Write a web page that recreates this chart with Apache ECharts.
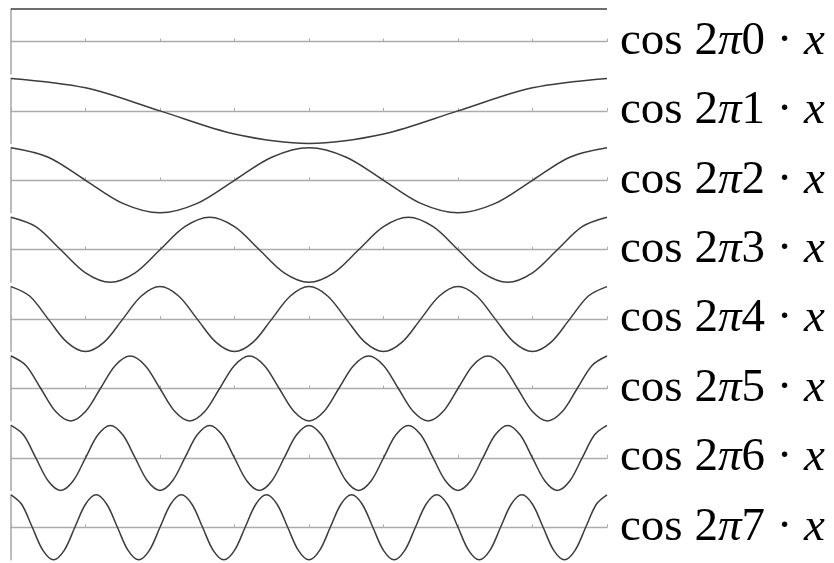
<!DOCTYPE html>
<html>
<head>
<meta charset="utf-8">
<style>
html,body{margin:0;padding:0;background:#fff;}
#chart{width:834px;height:563px;}
</style>
<script src="https://cdn.jsdelivr.net/npm/echarts@6/dist/echarts.min.js"></script>
</head>
<body>
<div id="chart"></div>
<script>
// frequencies (label numbers)
const freqs = [0, 1, 2, 3, 4, 5, 6, 7];
// curve values sampled at evenly spaced x positions across [0, 1]
const wave0 = [1, 1];
const wave1 = [1,0.71,0,-0.71,-1,-0.71,0,0.71,1];
const wave2 = [1,0.71,0,-0.71,-1,-0.71,0,0.71,1,0.71,0,-0.71,-1,-0.71,0,0.71,1];
const wave3 = [1,0.71,0,-0.71,-1,-0.71,0,0.71,1,0.71,0,-0.71,-1,-0.71,0,0.71,1,0.71,0,-0.71,-1,-0.71,0,0.71,1];
const wave4 = [1,0.71,0,-0.71,-1,-0.71,0,0.71,1,0.71,0,-0.71,-1,-0.71,0,0.71,1,0.71,0,-0.71,-1,-0.71,0,0.71,1,0.71,0,-0.71,-1,-0.71,0,0.71,1];
const wave5 = [1,0.71,0,-0.71,-1,-0.71,0,0.71,1,0.71,0,-0.71,-1,-0.71,0,0.71,1,0.71,0,-0.71,-1,-0.71,0,0.71,1,0.71,0,-0.71,-1,-0.71,0,0.71,1,0.71,0,-0.71,-1,-0.71,0,0.71,1];
const wave6 = [1,0.71,0,-0.71,-1,-0.71,0,0.71,1,0.71,0,-0.71,-1,-0.71,0,0.71,1,0.71,0,-0.71,-1,-0.71,0,0.71,1,0.71,0,-0.71,-1,-0.71,0,0.71,1,0.71,0,-0.71,-1,-0.71,0,0.71,1,0.71,0,-0.71,-1,-0.71,0,0.71,1];
const wave7 = [1,0.71,0,-0.71,-1,-0.71,0,0.71,1,0.71,0,-0.71,-1,-0.71,0,0.71,1,0.71,0,-0.71,-1,-0.71,0,0.71,1,0.71,0,-0.71,-1,-0.71,0,0.71,1,0.71,0,-0.71,-1,-0.71,0,0.71,1,0.71,0,-0.71,-1,-0.71,0,0.71,1,0.71,0,-0.71,-1,-0.71,0,0.71,1];
const waves = [wave0, wave1, wave2, wave3, wave4, wave5, wave6, wave7];

const chart = echarts.init(document.getElementById('chart'), null, {renderer: 'canvas'});

const axisGray = '#ababab';
const curveColor = '#3c3c3c';
const grids = [], xAxes = [], yAxes = [], series = [];
const top0 = 9, step = 69.4, h = 65;

freqs.forEach((k, i) => {
  grids.push({left: 11, width: 596, top: top0 + step * i, height: h});
  xAxes.push({
    type: 'value', gridIndex: i, min: 0, max: 1, interval: 0.125,
    axisLine: {show: true, onZero: true, lineStyle: {color: axisGray, width: 1.3}},
    axisTick: {show: true, inside: true, length: 3, lineStyle: {color: axisGray, width: 1}},
    axisLabel: {show: false},
    splitLine: {show: false},
    name: '{n|cos 2}{i|π}{n|' + k + ' · }{i|x}',
    nameLocation: 'end',
    nameGap: 13,
    nameTextStyle: {
      verticalAlign: 'middle',
      rich: {
        n: {fontFamily: 'Liberation Serif', fontSize: 47, color: '#000'},
        i: {fontFamily: 'Liberation Serif', fontStyle: 'italic', fontSize: 47, color: '#000'}
      }
    }
  });
  yAxes.push({
    type: 'value', gridIndex: i, min: -1, max: 1,
    axisLine: {show: true, lineStyle: {color: axisGray, width: 1.6}},
    axisTick: {show: false}, axisLabel: {show: false}, splitLine: {show: false}
  });
  const arr = waves[i];
  series.push({
    type: 'line', xAxisIndex: i, yAxisIndex: i,
    data: arr.map((v, j) => [j / (arr.length - 1), v]),
    showSymbol: false, smooth: 0.33, clip: false,
    lineStyle: {color: curveColor, width: 1.5},
    silent: true
  });
});

chart.setOption({
  animation: false,
  grid: grids, xAxis: xAxes, yAxis: yAxes, series: series
});
</script>
</body>
</html>
